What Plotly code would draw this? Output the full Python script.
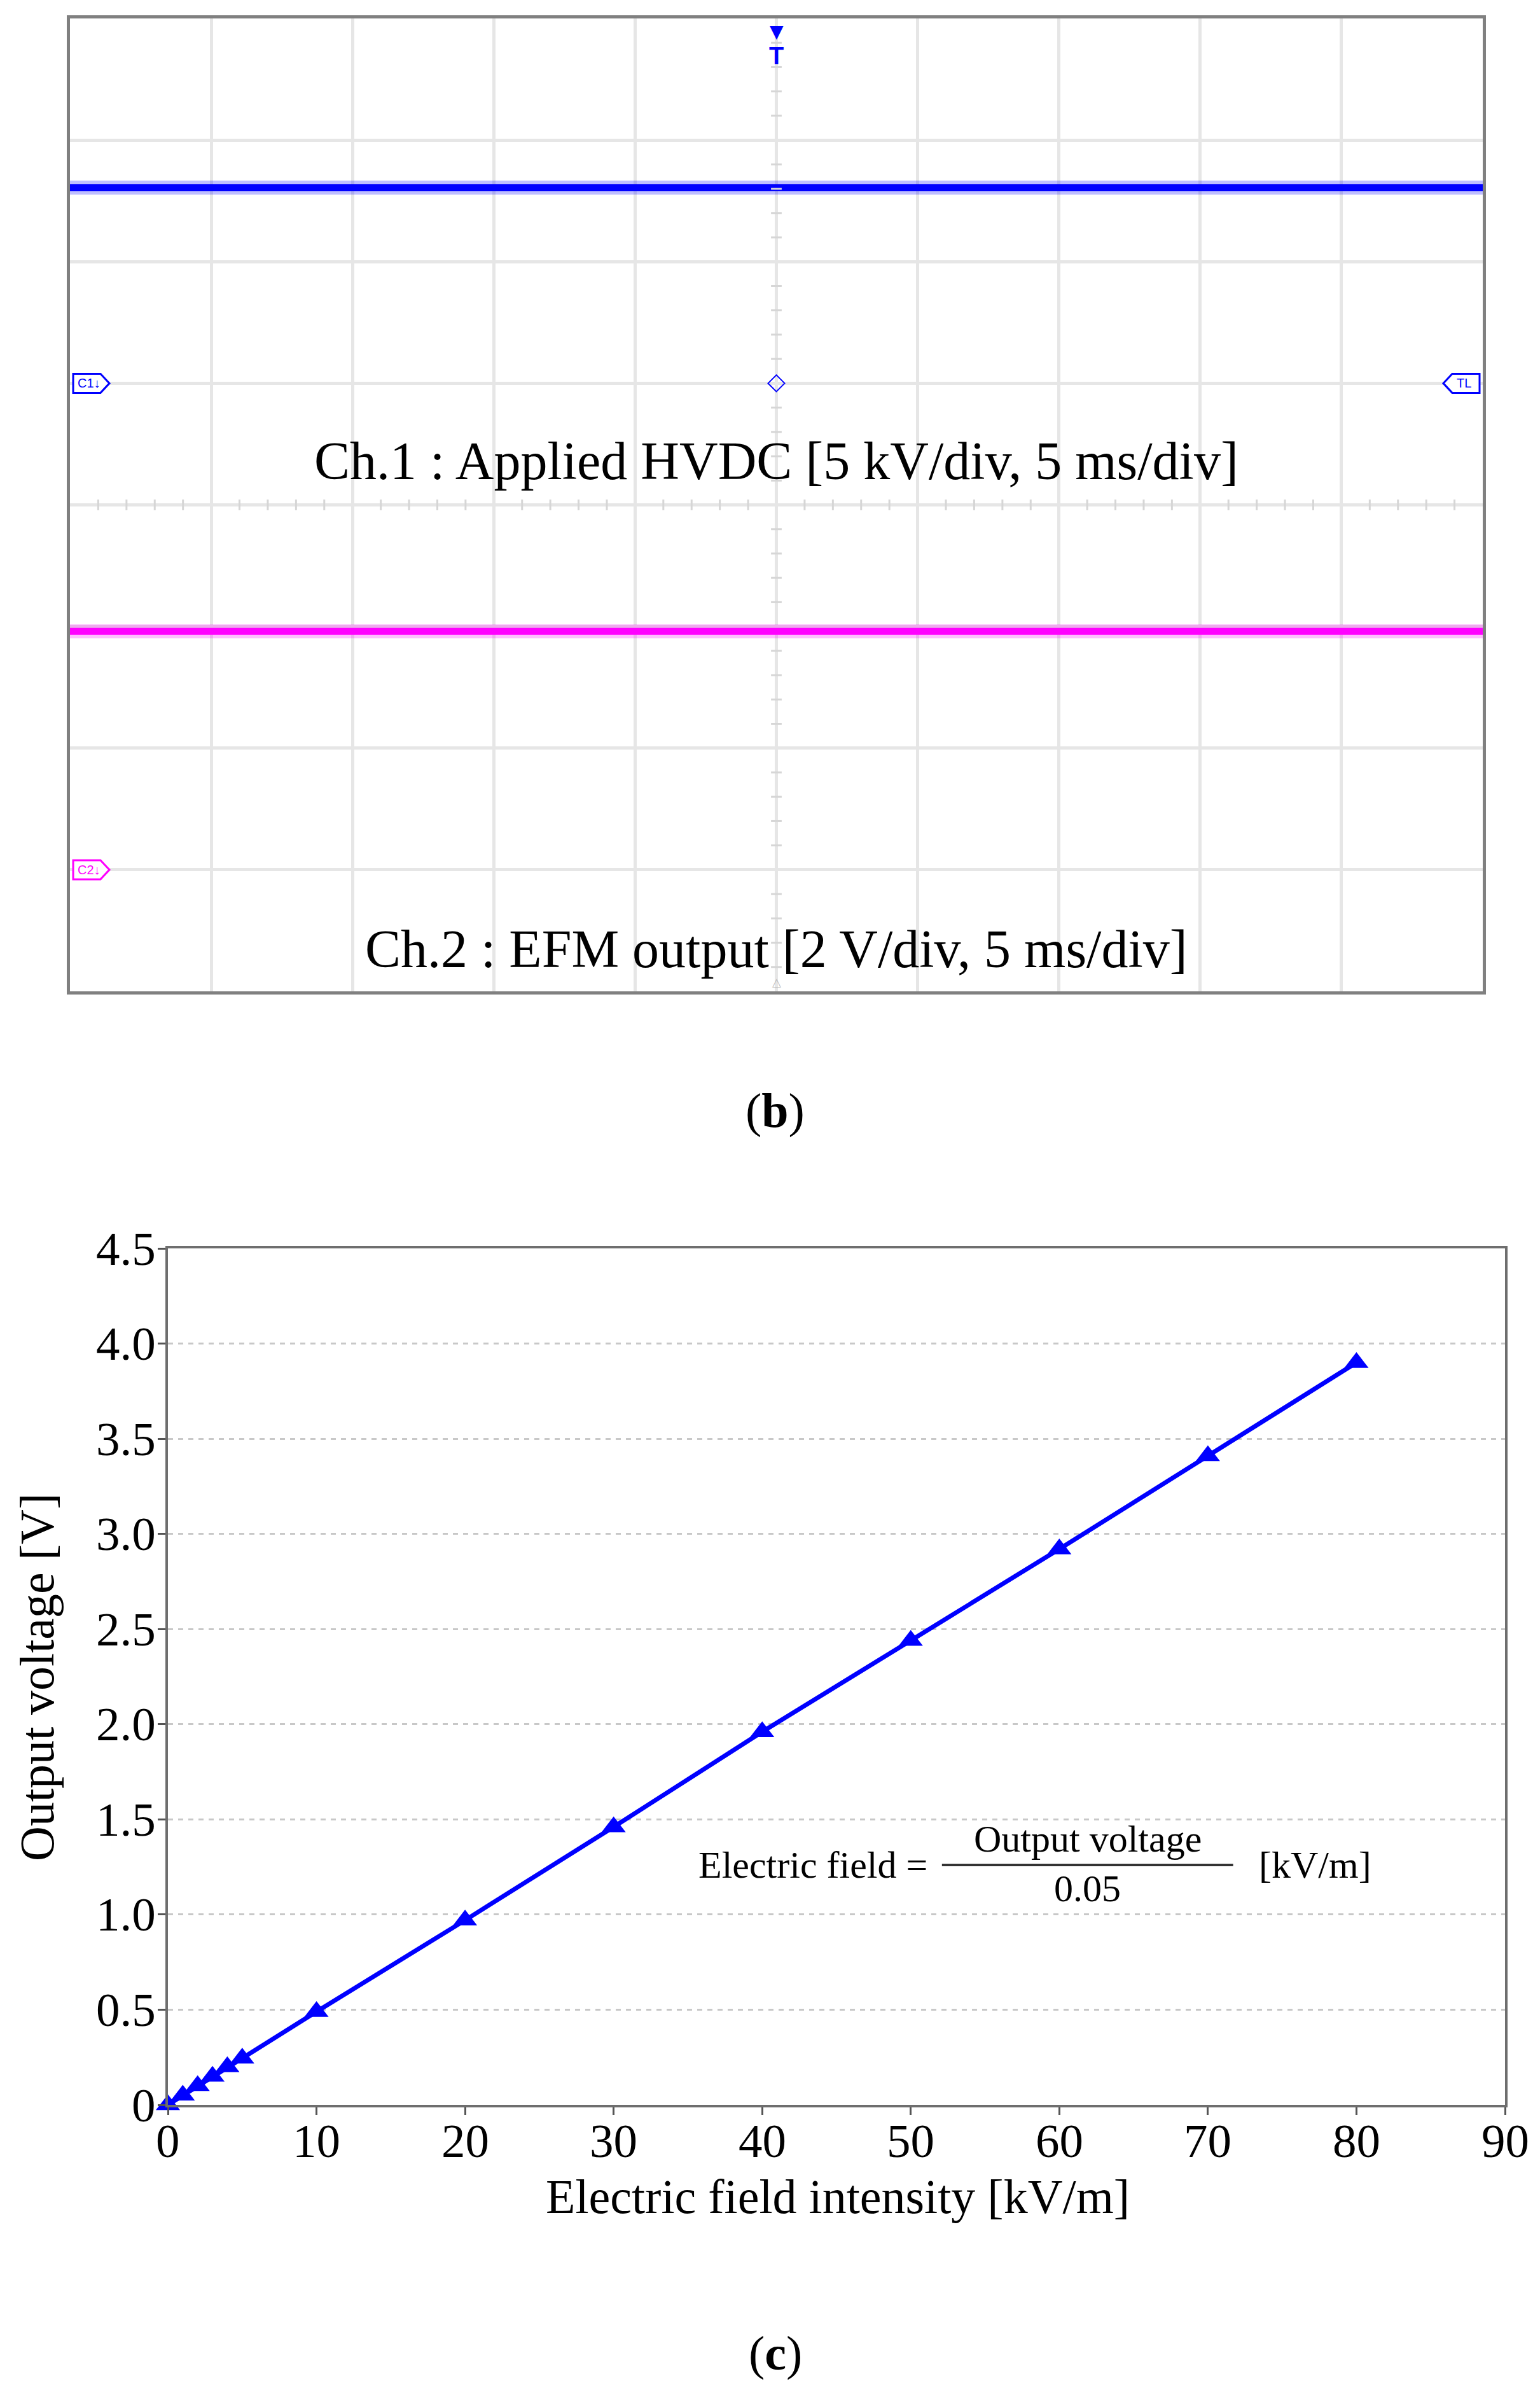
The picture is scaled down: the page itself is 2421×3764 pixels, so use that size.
import plotly.graph_objects as go

W, H = 2421, 3764

# (b) oscilloscope capture: 10 x 8 divisions, 5 ms/div
time_ms = [-25, 25]
ch1_kv = [8.05, 8.05]       # Applied HVDC, 5 kV/div
ch2_v = [3.92, 3.92]        # EFM output, 2 V/div
ch1_scale, ch1_offset = 5, 1     # ground marker C1 at +1 div
ch2_scale, ch2_offset = 2, -3    # ground marker C2 at -3 div

# (c) output voltage vs. electric field intensity
field_kvm = [0, 1, 2, 3, 4, 5, 10, 20, 30, 40, 50, 60, 70, 80]
output_v = [0, 0.05, 0.1, 0.15, 0.2, 0.245, 0.49, 0.97, 1.46, 1.96, 2.44, 2.92, 3.41, 3.9]
x_ticks = [0, 10, 20, 30, 40, 50, 60, 70, 80, 90]
y_ticks = [0, 0.5, 1.0, 1.5, 2.0, 2.5, 3.0, 3.5, 4.0, 4.5]
y_ticktext = ["0", "0.5", "1.0", "1.5", "2.0", "2.5", "3.0", "3.5", "4.0", "4.5"]

SERIF = "Liberation Serif"
BLUE = "#0000ff"
PINK = "#ff00ff"


def px(x):
    return x / W


def py(y):
    return 1 - y / H


fig = go.Figure()

# scope traces, converted to screen divisions
ch1_div = [ch1_offset + v / ch1_scale for v in ch1_kv]
ch2_div = [ch2_offset + v / ch2_scale for v in ch2_v]
for vals, col in [(ch1_div, BLUE), (ch2_div, PINK)]:
    # faint halo for the noise band, then the solid core
    fig.add_trace(go.Scatter(x=time_ms, y=vals, mode="lines", xaxis="x2", yaxis="y2",
                             line=dict(color=col, width=22), opacity=0.25, hoverinfo="skip"))
    fig.add_trace(go.Scatter(x=time_ms, y=vals, mode="lines", xaxis="x2", yaxis="y2",
                             line=dict(color=col, width=11), hoverinfo="skip"))

# minor ticks on the centre graticule lines (0.2 div)
minor_y = [i * 0.2 for i in range(-20, 21) if i % 5]
minor_x = [i for i in range(-25, 26) if i % 5]
fig.add_trace(go.Scatter(x=[0] * len(minor_y), y=minor_y, mode="markers", xaxis="x2", yaxis="y2",
                         marker=dict(symbol="line-ew", size=12, line=dict(color="#d6d6d6", width=3)),
                         hoverinfo="skip"))
fig.add_trace(go.Scatter(x=minor_x, y=[0] * len(minor_x), mode="markers", xaxis="x2", yaxis="y2",
                         marker=dict(symbol="line-ns", size=12, line=dict(color="#d6d6d6", width=3)),
                         hoverinfo="skip"))
# centre diamond (trigger position / ch1 level)
fig.add_trace(go.Scatter(x=[0], y=[ch1_offset], mode="markers", xaxis="x2", yaxis="y2",
                         marker=dict(symbol="diamond-open", size=20, color=BLUE, line=dict(width=2)),
                         hoverinfo="skip"))

# calibration curve
fig.add_trace(go.Scatter(
    x=field_kvm, y=output_v, mode="lines+markers",
    line=dict(color=BLUE, width=7),
    marker=dict(symbol="triangle-up", size=33, color=BLUE),
    cliponaxis=False, hoverinfo="skip"
))

tick_font = dict(family=SERIF, size=75, color="black")

fig.update_layout(
    width=W, height=H,
    margin=dict(l=0, r=0, t=0, b=0, autoexpand=False),
    paper_bgcolor="white", plot_bgcolor="white",
    showlegend=False,
    font=dict(family=SERIF, color="black"),
    # scope screen
    xaxis2=dict(domain=[px(102), px(2323)], anchor="y2", range=[-25, 25], dtick=5,
                showticklabels=False, ticks="", zeroline=False, automargin=False,
                showgrid=True, gridcolor="#e6e6e6", gridwidth=5,
                showline=True, mirror=True, linecolor="#808080", linewidth=5),
    yaxis2=dict(domain=[py(1550), py(21)], anchor="x2", range=[-4, 4], dtick=1,
                showticklabels=False, ticks="", zeroline=False, automargin=False,
                showgrid=True, gridcolor="#e6e6e6", gridwidth=5,
                showline=True, mirror=True, linecolor="#808080", linewidth=5),
    # calibration chart (tick labels are placed as annotations below)
    xaxis=dict(domain=[px(256), px(2358)], anchor="y", range=[0, 90], automargin=False,
               tickvals=x_ticks, showticklabels=False,
               ticks="outside", ticklen=12, tickwidth=3, tickcolor="#555555",
               showgrid=False, zeroline=False,
               showline=True, mirror=True, linecolor="#6e6e6e", linewidth=4),
    yaxis=dict(domain=[py(3300), py(1954)], anchor="x", range=[0, 4.5], automargin=False,
               tickvals=y_ticks, showticklabels=False,
               ticks="outside", ticklen=12, tickwidth=3, tickcolor="#555555",
               showgrid=True, gridcolor="#c8c8c8", gridwidth=3, griddash="8px,8px",
               zeroline=False,
               showline=True, mirror=True, linecolor="#6e6e6e", linewidth=4),
)

ann = []
# tick labels of (c), set closer to the axes than plotly's default padding
for v in x_ticks:
    ann.append(dict(x=v, y=0, xref="x", yref="y", yanchor="middle", yshift=-56,
                    showarrow=False, text=str(v), font=tick_font))
for v, t in zip(y_ticks, y_ticktext):
    ann.append(dict(x=0, y=v, xref="x", yref="y", xanchor="right", xshift=-17,
                    showarrow=False, text=t, font=tick_font))

# scope labels
ann.append(dict(x=0, y=0.36, xref="x2", yref="y2", showarrow=False,
                text="Ch.1 : Applied HVDC [5 kV/div, 5 ms/div]",
                font=dict(family=SERIF, size=84, color="black")))
ann.append(dict(x=0, y=-3.65, xref="x2", yref="y2", showarrow=False,
                text="Ch.2 : EFM output [2 V/div, 5 ms/div]",
                font=dict(family=SERIF, size=84, color="black")))
# scope markers
ann.append(dict(x=0, y=4, xref="x2", yref="y2", yanchor="top", yshift=-2, showarrow=False,
                text="▼", font=dict(family="DejaVu Sans", size=28, color=BLUE)))
ann.append(dict(x=0, y=4, xref="x2", yref="y2", yanchor="top", yshift=-36, showarrow=False,
                text="<b>T</b>", font=dict(family="Liberation Sans", size=38, color=BLUE)))
ann.append(dict(x=0, y=-4, xref="x2", yref="y2", yanchor="bottom", yshift=2, showarrow=False,
                text="△", font=dict(family="DejaVu Sans", size=18, color="#b8b8b8")))

# channel / trigger level tags (pointed boxes on the screen edges)
tags = [(-25, ch1_offset, 1, "C1↓", BLUE), (25, ch1_offset, -1, "TL", BLUE),
        (-25, ch2_offset, 1, "C2↓", PINK)]
for tx, ty, d, label, col in tags:
    path = (f"M {5*d},-15 L {48*d},-15 L {62*d},0 L {48*d},15 L {5*d},15 Z")
    fig.add_shape(type="path", xref="x2", yref="y2", xsizemode="pixel", ysizemode="pixel",
                  xanchor=tx, yanchor=ty, path=path, fillcolor="white",
                  line=dict(color=col, width=3), layer="above")
    ann.append(dict(x=tx, y=ty, xref="x2", yref="y2", xshift=30 * d, showarrow=False,
                    text=label, font=dict(family="Liberation Sans", size=20, color=col)))

# panel captions
cap = dict(xref="paper", yref="paper", xanchor="center", yanchor="middle", showarrow=False)
ann.append(dict(x=0.5, y=py(1738), text="(<b>b</b>)",
                font=dict(family=SERIF, size=76, color="black"), **cap))
ann.append(dict(x=0.5, y=py(3690), text="(<b>c</b>)",
                font=dict(family=SERIF, size=76, color="black"), **cap))

# axis titles of (c)
ann.append(dict(x=px(1309), y=py(3444), text="Electric field intensity [kV/m]",
                font=dict(family=SERIF, size=76, color="black"), **cap))
ann.append(dict(x=px(50), y=py(2628), textangle=-90, text="Output voltage [V]",
                font=dict(family=SERIF, size=76, color="black"), **cap))

# conversion formula
f_font = dict(family=SERIF, size=60, color="black")
ann.append(dict(x=51.2, y=1.26, xref="x", yref="y", xanchor="right", showarrow=False,
                text="Electric field =", font=f_font))
ann.append(dict(x=61.9, y=1.26, xref="x", yref="y", yanchor="bottom", yshift=6, showarrow=False,
                text="Output voltage", font=f_font))
ann.append(dict(x=61.9, y=1.26, xref="x", yref="y", yanchor="top", yshift=-2, showarrow=False,
                text="0.05", font=f_font))
ann.append(dict(x=77.2, y=1.26, xref="x", yref="y", showarrow=False,
                text="[kV/m]", font=f_font))
fig.update_layout(annotations=ann)

fig.add_shape(type="line", xref="x", yref="y", x0=52.1, x1=71.7, y0=1.26, y1=1.26,
              line=dict(color="#333333", width=4))

fig.write_html("out.html")
